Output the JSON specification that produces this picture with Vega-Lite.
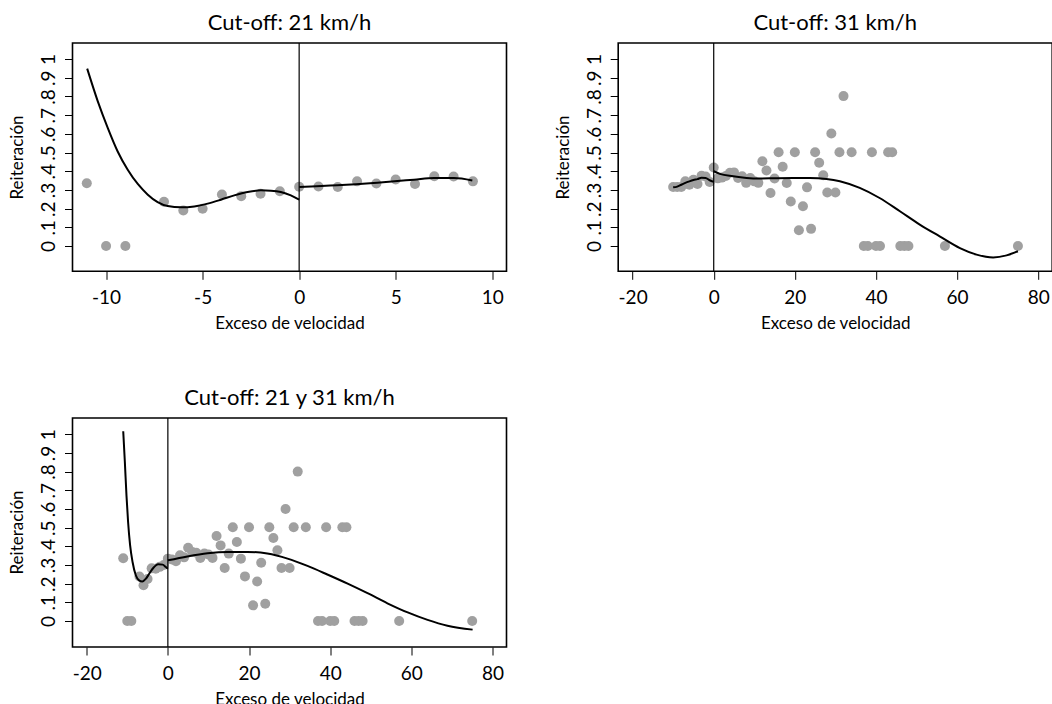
{
  "$schema": "https://vega.github.io/schema/vega-lite/v6.json",
  "padding": {"left": 7.5, "top": 11, "right": 0, "bottom": 0},
  "background": "white",
  "config": {
    "font": "Lato",
    "view": {"stroke": "black", "strokeWidth": 1.6},
    "axis": {
      "grid": false,
      "domain": false,
      "tickSize": 8,
      "tickColor": "black",
      "tickWidth": 1,
      "labelFontSize": 19,
      "labelColor": "black",
      "labelFlush": false,
      "labelOverlap": false,
      "titleFontSize": 17,
      "titleFontWeight": "normal",
      "titleColor": "black"
    },
    "axisX": {"labelPadding": 9, "titleY": 52, "titleBaseline": "middle", "labelExpr": "replace(datum.label, '\u2212', '-')"},
    "axisY": {
      "labelExpr": "datum.value === 0 ? '0' : (datum.value === 1 ? '1' : replace(format(datum.value, '.1f'), '0.', '.'))",
      "labelAngle": 270,
      "labelAlign": "center",
      "labelBaseline": "alphabetic",
      "labelPadding": 10,
      "titleAngle": 270,
      "titleX": -55,
      "titleY": 114,
      "titleAlign": "center",
      "titleBaseline": "middle"
    },
    "title": {"fontSize": 22, "fontWeight": "normal", "color": "black", "frame": "group", "anchor": "middle", "offset": 7, "baseline": "alphabetic"}
  },
  "datasets": {
    "p1": [
      {"x": -11, "y": 0.336}, {"x": -10, "y": 0}, {"x": -9, "y": 0}, {"x": -7, "y": 0.237},
      {"x": -6, "y": 0.19}, {"x": -5, "y": 0.2}, {"x": -4, "y": 0.276}, {"x": -3, "y": 0.267},
      {"x": -2, "y": 0.28}, {"x": -1, "y": 0.293}, {"x": 0, "y": 0.317}, {"x": 1, "y": 0.319},
      {"x": 2, "y": 0.316}, {"x": 3, "y": 0.346}, {"x": 4, "y": 0.335}, {"x": 5, "y": 0.356},
      {"x": 6, "y": 0.332}, {"x": 7, "y": 0.373}, {"x": 8, "y": 0.372}, {"x": 9, "y": 0.346}
    ],
    "c1": [
      {"x": -10.98, "y": 0.949, "seg": "a"}, {"x": -10.43, "y": 0.774, "seg": "a"}, {"x": -9.91, "y": 0.631, "seg": "a"},
      {"x": -9.4, "y": 0.506, "seg": "a"}, {"x": -8.88, "y": 0.408, "seg": "a"}, {"x": -8.36, "y": 0.332, "seg": "a"},
      {"x": -7.84, "y": 0.275, "seg": "a"}, {"x": -7.33, "y": 0.235, "seg": "a"}, {"x": -6.81, "y": 0.214, "seg": "a"},
      {"x": -6.12, "y": 0.207, "seg": "a"}, {"x": -5.43, "y": 0.212, "seg": "a"}, {"x": -4.74, "y": 0.227, "seg": "a"},
      {"x": -4.05, "y": 0.248, "seg": "a"}, {"x": -3.36, "y": 0.271, "seg": "a"}, {"x": -2.67, "y": 0.289, "seg": "a"},
      {"x": -1.98, "y": 0.298, "seg": "a"}, {"x": -1.46, "y": 0.296, "seg": "a"}, {"x": -0.95, "y": 0.289, "seg": "a"},
      {"x": -0.43, "y": 0.271, "seg": "a"}, {"x": 0, "y": 0.248, "seg": "a"},
      {"x": 0, "y": 0.316, "seg": "b"}, {"x": 1.98, "y": 0.325, "seg": "b"}, {"x": 4.05, "y": 0.339, "seg": "b"},
      {"x": 5.95, "y": 0.355, "seg": "b"}, {"x": 6.98, "y": 0.364, "seg": "b"}, {"x": 8.02, "y": 0.364, "seg": "b"},
      {"x": 8.97, "y": 0.351, "seg": "b"}
    ],
    "p2": [
      {"x": -10, "y": 0.316}, {"x": -9, "y": 0.316}, {"x": -8, "y": 0.316}, {"x": -7, "y": 0.347},
      {"x": -6, "y": 0.328}, {"x": -5, "y": 0.355}, {"x": -4, "y": 0.332}, {"x": -3, "y": 0.376},
      {"x": -2, "y": 0.372}, {"x": -1, "y": 0.343}, {"x": 0, "y": 0.42}, {"x": 1, "y": 0.362},
      {"x": 2, "y": 0.366}, {"x": 3, "y": 0.375}, {"x": 4, "y": 0.392}, {"x": 5, "y": 0.394},
      {"x": 6, "y": 0.364}, {"x": 7, "y": 0.373}, {"x": 8, "y": 0.338}, {"x": 9, "y": 0.364},
      {"x": 10, "y": 0.346}, {"x": 11, "y": 0.338}, {"x": 12, "y": 0.454}, {"x": 13, "y": 0.404},
      {"x": 14, "y": 0.284}, {"x": 15, "y": 0.361}, {"x": 16, "y": 0.502}, {"x": 17, "y": 0.424},
      {"x": 18, "y": 0.337}, {"x": 19, "y": 0.238}, {"x": 20, "y": 0.502}, {"x": 21, "y": 0.085},
      {"x": 22, "y": 0.213}, {"x": 23, "y": 0.314}, {"x": 24, "y": 0.092}, {"x": 25, "y": 0.502},
      {"x": 26, "y": 0.446}, {"x": 27, "y": 0.379}, {"x": 28, "y": 0.286}, {"x": 29, "y": 0.602},
      {"x": 30, "y": 0.286}, {"x": 31, "y": 0.502}, {"x": 32, "y": 0.802}, {"x": 34, "y": 0.502},
      {"x": 37, "y": 0}, {"x": 38, "y": 0}, {"x": 39, "y": 0.502}, {"x": 40, "y": 0},
      {"x": 41, "y": 0}, {"x": 43, "y": 0.502}, {"x": 44, "y": 0.502}, {"x": 46, "y": 0},
      {"x": 47, "y": 0}, {"x": 48, "y": 0}, {"x": 57, "y": 0}, {"x": 75, "y": 0}
    ],
    "c2": [
      {"x": -10, "y": 0.314, "seg": "a"}, {"x": -9, "y": 0.318, "seg": "a"}, {"x": -8, "y": 0.328, "seg": "a"},
      {"x": -7, "y": 0.338, "seg": "a"}, {"x": -6, "y": 0.346, "seg": "a"}, {"x": -5, "y": 0.353, "seg": "a"},
      {"x": -4, "y": 0.358, "seg": "a"}, {"x": -3, "y": 0.365, "seg": "a"}, {"x": -2, "y": 0.364, "seg": "a"},
      {"x": -1, "y": 0.352, "seg": "a"}, {"x": 0, "y": 0.343, "seg": "a"},
      {"x": 0, "y": 0.4, "seg": "b"}, {"x": 1.5, "y": 0.386, "seg": "b"}, {"x": 4.8, "y": 0.373, "seg": "b"},
      {"x": 8.1, "y": 0.364, "seg": "b"}, {"x": 11.4, "y": 0.361, "seg": "b"}, {"x": 15.5, "y": 0.363, "seg": "b"},
      {"x": 19.6, "y": 0.364, "seg": "b"}, {"x": 23.7, "y": 0.364, "seg": "b"}, {"x": 27.8, "y": 0.359, "seg": "b"},
      {"x": 31.1, "y": 0.347, "seg": "b"}, {"x": 36.0, "y": 0.311, "seg": "b"}, {"x": 40.9, "y": 0.257, "seg": "b"},
      {"x": 45.9, "y": 0.186, "seg": "b"}, {"x": 50.8, "y": 0.115, "seg": "b"}, {"x": 55.7, "y": 0.052, "seg": "b"},
      {"x": 60.7, "y": -0.011, "seg": "b"}, {"x": 64.8, "y": -0.046, "seg": "b"}, {"x": 68.9, "y": -0.061, "seg": "b"},
      {"x": 72.2, "y": -0.05, "seg": "b"}, {"x": 75, "y": -0.028, "seg": "b"}
    ],
    "p3": [
      {"x": -11, "y": 0.336}, {"x": -10, "y": 0}, {"x": -9, "y": 0}, {"x": -7, "y": 0.238},
      {"x": -6, "y": 0.192}, {"x": -5, "y": 0.225}, {"x": -4, "y": 0.282}, {"x": -3, "y": 0.28},
      {"x": -2, "y": 0.29}, {"x": -1, "y": 0.3}, {"x": 0, "y": 0.334}, {"x": 1, "y": 0.33},
      {"x": 2, "y": 0.32}, {"x": 3, "y": 0.352}, {"x": 4, "y": 0.341}, {"x": 5, "y": 0.392},
      {"x": 6, "y": 0.37}, {"x": 7, "y": 0.366}, {"x": 8, "y": 0.338}, {"x": 9, "y": 0.361},
      {"x": 10, "y": 0.356}, {"x": 11, "y": 0.338}, {"x": 12, "y": 0.455}, {"x": 13, "y": 0.405},
      {"x": 14, "y": 0.284}, {"x": 15, "y": 0.361}, {"x": 16, "y": 0.502}, {"x": 17, "y": 0.423},
      {"x": 18, "y": 0.334}, {"x": 19, "y": 0.239}, {"x": 20, "y": 0.502}, {"x": 21, "y": 0.084},
      {"x": 22, "y": 0.212}, {"x": 23, "y": 0.312}, {"x": 24, "y": 0.093}, {"x": 25, "y": 0.502},
      {"x": 26, "y": 0.445}, {"x": 27, "y": 0.379}, {"x": 28, "y": 0.284}, {"x": 29, "y": 0.6},
      {"x": 30, "y": 0.284}, {"x": 31, "y": 0.502}, {"x": 32, "y": 0.8}, {"x": 34, "y": 0.502},
      {"x": 37, "y": 0}, {"x": 38, "y": 0}, {"x": 39, "y": 0.502}, {"x": 40, "y": 0},
      {"x": 41, "y": 0}, {"x": 43, "y": 0.502}, {"x": 44, "y": 0.502}, {"x": 46, "y": 0},
      {"x": 47, "y": 0}, {"x": 48, "y": 0}, {"x": 57, "y": 0}, {"x": 75, "y": 0}
    ],
    "c3": [
      {"x": -11, "y": 1.016, "seg": "a"}, {"x": -10.6, "y": 0.852, "seg": "a"}, {"x": -10.2, "y": 0.673, "seg": "a"},
      {"x": -9.8, "y": 0.53, "seg": "a"}, {"x": -9.3, "y": 0.405, "seg": "a"}, {"x": -8.7, "y": 0.316, "seg": "a"},
      {"x": -7.9, "y": 0.245, "seg": "a"}, {"x": -7.1, "y": 0.218, "seg": "a"}, {"x": -6.3, "y": 0.212, "seg": "a"},
      {"x": -5.4, "y": 0.227, "seg": "a"}, {"x": -4.6, "y": 0.253, "seg": "a"}, {"x": -3.6, "y": 0.284, "seg": "a"},
      {"x": -2.4, "y": 0.304, "seg": "a"}, {"x": -1.3, "y": 0.302, "seg": "a"}, {"x": -0.5, "y": 0.289, "seg": "a"},
      {"x": 0, "y": 0.28, "seg": "a"},
      {"x": 0, "y": 0.325, "seg": "b"}, {"x": 4.8, "y": 0.346, "seg": "b"}, {"x": 9.8, "y": 0.363, "seg": "b"},
      {"x": 14.7, "y": 0.37, "seg": "b"}, {"x": 19.6, "y": 0.37, "seg": "b"}, {"x": 24.5, "y": 0.361, "seg": "b"},
      {"x": 29.5, "y": 0.334, "seg": "b"}, {"x": 34.4, "y": 0.295, "seg": "b"}, {"x": 39.3, "y": 0.249, "seg": "b"},
      {"x": 44.3, "y": 0.2, "seg": "b"}, {"x": 49.2, "y": 0.149, "seg": "b"}, {"x": 54.1, "y": 0.095, "seg": "b"},
      {"x": 59.1, "y": 0.046, "seg": "b"}, {"x": 64, "y": 0.006, "seg": "b"}, {"x": 68.9, "y": -0.025, "seg": "b"},
      {"x": 75.1, "y": -0.046, "seg": "b"}
    ]
  },
  "columns": 2,
  "bounds": "flush",
  "spacing": {"row": 146, "column": 111.7},
  "concat": [
    {
      "width": 434, "height": 228.3,
      "title": {"text": "Cut-off: 21 km/h"},
      "layer": [
        {
          "data": {"name": "p1"},
          "mark": {"type": "circle", "color": "#a0a0a0", "opacity": 1, "size": 100},
          "encoding": {
            "x": {"field": "x", "type": "quantitative", "scale": {"domain": [-11.74, 10.74], "nice": false, "zero": false},
                  "axis": {"title": "Exceso de velocidad", "values": [-10, -5, 0, 5, 10]}},
            "y": {"field": "y", "type": "quantitative", "scale": {"domain": [-0.135, 1.086], "nice": false, "zero": false},
                  "axis": {"title": "Reiteración", "labelOverlap": false, "values": [0, 0.1, 0.2, 0.3, 0.4, 0.5, 0.6, 0.7, 0.8, 0.9, 1]}}
          }
        },
        {
          "data": {"name": "c1"},
          "mark": {"type": "line", "color": "black", "strokeWidth": 2, "interpolate": "monotone"},
          "encoding": {
            "x": {"field": "x", "type": "quantitative", "axis": {"title": "Exceso de velocidad", "values": [-10, -5, 0, 5, 10]}},
            "y": {"field": "y", "type": "quantitative", "axis": {"title": "Reiteración", "labelOverlap": false, "values": [0, 0.1, 0.2, 0.3, 0.4, 0.5, 0.6, 0.7, 0.8, 0.9, 1]}},
            "detail": {"field": "seg"}
          }
        },
        {
          "data": {"values": [{}]},
          "mark": {"type": "rule", "color": "black", "strokeWidth": 1.2},
          "encoding": {"x": {"datum": 0, "type": "quantitative", "axis": {"title": "Exceso de velocidad", "values": [-10, -5, 0, 5, 10]}}}
        }
      ]
    },
    {
      "width": 434, "height": 228.3,
      "title": {"text": "Cut-off: 31 km/h"},
      "layer": [
        {
          "data": {"name": "p2"},
          "mark": {"type": "circle", "color": "#a0a0a0", "opacity": 1, "size": 100},
          "encoding": {
            "x": {"field": "x", "type": "quantitative", "scale": {"domain": [-23.55, 83.45], "nice": false, "zero": false},
                  "axis": {"title": "Exceso de velocidad", "values": [-20, 0, 20, 40, 60, 80]}},
            "y": {"field": "y", "type": "quantitative", "scale": {"domain": [-0.135, 1.086], "nice": false, "zero": false},
                  "axis": {"title": "Reiteración", "labelOverlap": false, "values": [0, 0.1, 0.2, 0.3, 0.4, 0.5, 0.6, 0.7, 0.8, 0.9, 1]}}
          }
        },
        {
          "data": {"name": "c2"},
          "mark": {"type": "line", "color": "black", "strokeWidth": 2, "interpolate": "monotone"},
          "encoding": {
            "x": {"field": "x", "type": "quantitative", "axis": {"title": "Exceso de velocidad", "values": [-20, 0, 20, 40, 60, 80]}},
            "y": {"field": "y", "type": "quantitative", "axis": {"title": "Reiteración", "labelOverlap": false, "values": [0, 0.1, 0.2, 0.3, 0.4, 0.5, 0.6, 0.7, 0.8, 0.9, 1]}},
            "detail": {"field": "seg"}
          }
        },
        {
          "data": {"values": [{}]},
          "mark": {"type": "rule", "color": "black", "strokeWidth": 1.2},
          "encoding": {"x": {"datum": 0, "type": "quantitative", "axis": {"title": "Exceso de velocidad", "values": [-20, 0, 20, 40, 60, 80]}}}
        }
      ]
    },
    {
      "width": 434, "height": 229,
      "title": {"text": "Cut-off: 21 y 31 km/h"},
      "layer": [
        {
          "data": {"name": "p3"},
          "mark": {"type": "circle", "color": "#a0a0a0", "opacity": 1, "size": 100},
          "encoding": {
            "x": {"field": "x", "type": "quantitative", "scale": {"domain": [-23.5, 83.45], "nice": false, "zero": false},
                  "axis": {"title": "Exceso de velocidad", "values": [-20, 0, 20, 40, 60, 80]}},
            "y": {"field": "y", "type": "quantitative", "scale": {"domain": [-0.139, 1.087], "nice": false, "zero": false},
                  "axis": {"title": "Reiteración", "labelOverlap": false, "values": [0, 0.1, 0.2, 0.3, 0.4, 0.5, 0.6, 0.7, 0.8, 0.9, 1]}}
          }
        },
        {
          "data": {"name": "c3"},
          "mark": {"type": "line", "color": "black", "strokeWidth": 2, "interpolate": "monotone"},
          "encoding": {
            "x": {"field": "x", "type": "quantitative", "axis": {"title": "Exceso de velocidad", "values": [-20, 0, 20, 40, 60, 80]}},
            "y": {"field": "y", "type": "quantitative", "axis": {"title": "Reiteración", "labelOverlap": false, "values": [0, 0.1, 0.2, 0.3, 0.4, 0.5, 0.6, 0.7, 0.8, 0.9, 1]}},
            "detail": {"field": "seg"}
          }
        },
        {
          "data": {"values": [{}]},
          "mark": {"type": "rule", "color": "black", "strokeWidth": 1.2},
          "encoding": {"x": {"datum": 0, "type": "quantitative", "axis": {"title": "Exceso de velocidad", "values": [-20, 0, 20, 40, 60, 80]}}}
        }
      ]
    }
  ]
}
